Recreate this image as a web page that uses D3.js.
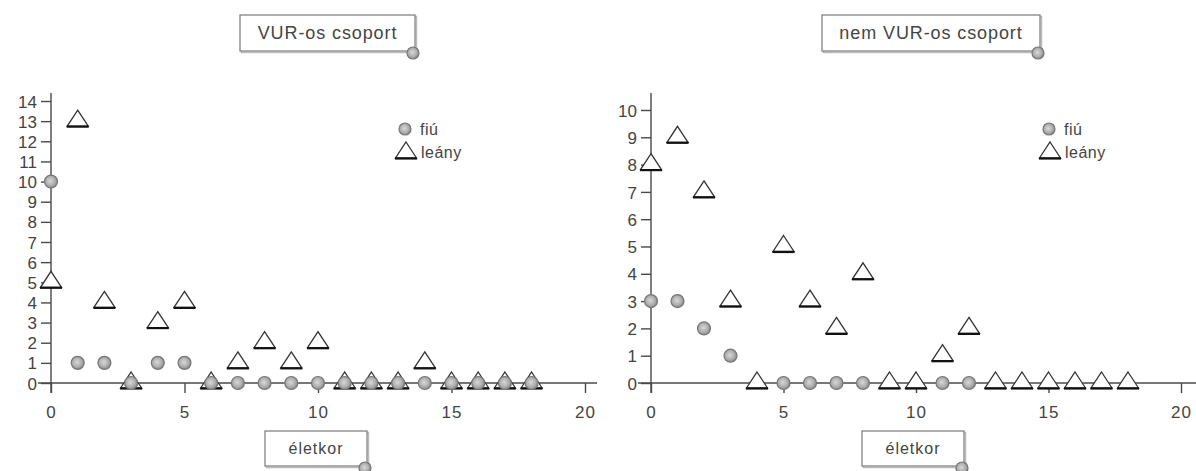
<!DOCTYPE html>
<html>
<head>
<meta charset="utf-8">
<script src="https://cdn.jsdelivr.net/npm/d3@7"></script>
<style>
  body { margin: 0; background: #fff; }
  svg { display: block; }
  text { font-family: "Liberation Sans", Arial, sans-serif; fill: #444; }
</style>
</head>
<body>
<svg id="chart" width="1196" height="471"></svg>
<script>
// ---- data ----
const ages = [0,1,2,3,4,5,6,7,8,9,10,11,12,13,14,15,16,17,18];
const vurFiu   = [10,1,1,0,1,1,0,0,0,0,0,0,0,0,0,0,0,0,0];
const vurLeany = [5,13,4,0,3,4,0,1,2,1,2,0,0,0,1,0,0,0,0];
const nemFiu   = [3,3,2,1,null,0,0,0,0,null,null,0,0,null,null,null,null,null,null];
const nemLeany = [8,9,7,3,0,5,3,2,4,0,0,1,2,0,0,0,0,0,0];
const xTicks = [0,5,10,15,20];
const vurYTicks = [0,1,2,3,4,5,6,7,8,9,10,11,12,13,14];
const nemYTicks = [0,1,2,3,4,5,6,7,8,9,10];
const titles = ["VUR-os csoport", "nem VUR-os csoport"];
const xLabel = "életkor";
const legendLabels = ["fiú", "leány"];

const svg = d3.select("#chart");
const defs = svg.append("defs");
const grad = defs.append("radialGradient").attr("id", "ball")
  .attr("cx", "45%").attr("cy", "45%").attr("r", "60%");
grad.append("stop").attr("offset", "0%").attr("stop-color", "#d8d8d8");
grad.append("stop").attr("offset", "60%").attr("stop-color", "#adadad");
grad.append("stop").attr("offset", "100%").attr("stop-color", "#808080");

const AXIS = "#4a4a4a";

function triPath(cx, cy) {
  return `M${cx},${cy-11}L${cx+10.5},${cy+5}L${cx-10.5},${cy+5}Z`;
}
function drawTri(g, cx, cy) {
  g.append("path").attr("d", triPath(cx, cy))
    .attr("fill", "#fff").attr("stroke", "#333").attr("stroke-width", 1.3)
    .attr("stroke-linejoin", "miter");
  g.append("line").attr("x1", cx-11).attr("x2", cx+11).attr("y1", cy+5.5).attr("y2", cy+5.5)
    .attr("stroke", "#111").attr("stroke-width", 2.2);
}
function drawBall(g, cx, cy, r) {
  g.append("circle").attr("cx", cx).attr("cy", cy).attr("r", r || 6.5)
    .attr("fill", "url(#ball)").attr("stroke", "#777").attr("stroke-width", 1.2);
}

function panel(cfg) {
  const g = svg.append("g");
  const x = d3.scaleLinear().domain([0, 20]).range(cfg.xRange);
  const y = d3.scaleLinear().domain([0, cfg.yMax]).range(cfg.yRange);
  const x0 = x(0), y0 = y(0);

  // y axis
  g.append("line").attr("x1", x0).attr("x2", x0).attr("y1", cfg.yTop).attr("y2", y0 + 10)
    .attr("stroke", AXIS).attr("stroke-width", 1.4);
  const yAxis = d3.axisLeft(y).tickValues(cfg.yTicks).tickSize(10).tickPadding(4)
    .tickFormat(d3.format("d"));
  const ya = g.append("g").attr("transform", `translate(${x0},0)`).call(yAxis);
  ya.select(".domain").remove();
  ya.selectAll(".tick line").attr("stroke", AXIS).attr("stroke-width", 1.4);
  ya.selectAll(".tick text").attr("font-size", 17).attr("fill", "#444")
    .attr("font-family", "Liberation Sans, Arial, sans-serif").attr("dy", "0.36em");

  // x axis
  g.append("line").attr("x1", x0 - 13).attr("x2", cfg.xEnd).attr("y1", y0).attr("y2", y0)
    .attr("stroke", AXIS).attr("stroke-width", 1.4);
  const xAxis = d3.axisBottom(x).tickValues(xTicks).tickSize(10).tickPadding(13)
    .tickFormat(d3.format("d"));
  const xa = g.append("g").attr("transform", `translate(0,${y0})`).call(xAxis);
  xa.select(".domain").remove();
  xa.selectAll(".tick line").attr("stroke", AXIS).attr("stroke-width", 1.4);
  xa.selectAll(".tick text").attr("font-size", 17).attr("fill", "#444")
    .attr("font-family", "Liberation Sans, Arial, sans-serif").attr("letter-spacing", 1);

  // triangles (leány)
  const tg = g.append("g");
  ages.forEach((a, i) => {
    const v = cfg.leany[i];
    if (v != null) drawTri(tg, x(a), y(v));
  });
  // circles (fiú)
  const cg = g.append("g");
  ages.forEach((a, i) => {
    const v = cfg.fiu[i];
    if (v != null) drawBall(cg, x(a), y(v));
  });

  // legend
  const lg = g.append("g");
  drawBall(lg, cfg.legend[0], cfg.legend[1], 6);
  lg.append("text").attr("x", cfg.legend[0] + 15).attr("y", cfg.legend[1] + 6)
    .attr("font-size", 16).attr("letter-spacing", 0.5).text(legendLabels[0]);
  drawTri(lg, cfg.legend[0] + 1, cfg.legend[1] + 24);
  lg.append("text").attr("x", cfg.legend[0] + 16).attr("y", cfg.legend[1] + 29)
    .attr("font-size", 16).attr("letter-spacing", 0.5).text(legendLabels[1]);

  // boxes
  function box(bx, by, bw, bh, label, fs, ls) {
    const b = g.append("g");
    b.append("rect").attr("x", bx + 1.5).attr("y", by + 1.5).attr("width", bw).attr("height", bh)
      .attr("fill", "none").attr("stroke", "#bbb").attr("stroke-width", 1.5);
    b.append("rect").attr("x", bx).attr("y", by).attr("width", bw).attr("height", bh)
      .attr("fill", "#fff").attr("stroke", "#7a7a7a").attr("stroke-width", 1.2);
    b.append("text").attr("x", bx + bw / 2).attr("y", by + bh / 2 + fs * 0.36)
      .attr("text-anchor", "middle").attr("font-size", fs).attr("letter-spacing", ls).text(label);
    drawBall(b, bx + bw - 2, by + bh + 2, 6);
  }
  box(cfg.title[0], cfg.title[1], cfg.title[2], cfg.title[3], cfg.titleText, 18, 0.9);
  box(cfg.xbox[0], cfg.xbox[1], cfg.xbox[2], cfg.xbox[3], xLabel, 16, 1);
}

panel({
  xRange: [51, 585], xEnd: 597, yMax: 14, yRange: [383, 101], yTop: 93,
  yTicks: vurYTicks, fiu: vurFiu, leany: vurLeany,
  legend: [405, 129], title: [240, 15, 175, 36], titleText: titles[0],
  xbox: [265, 431, 102, 35]
});
panel({
  xRange: [651, 1181], xEnd: 1196, yMax: 10, yRange: [383, 110], yTop: 93,
  yTicks: nemYTicks, fiu: nemFiu, leany: nemLeany,
  legend: [1049, 129], title: [822, 15, 218, 36], titleText: titles[1],
  xbox: [862, 431, 102, 35]
});
</script>
</body>
</html>
